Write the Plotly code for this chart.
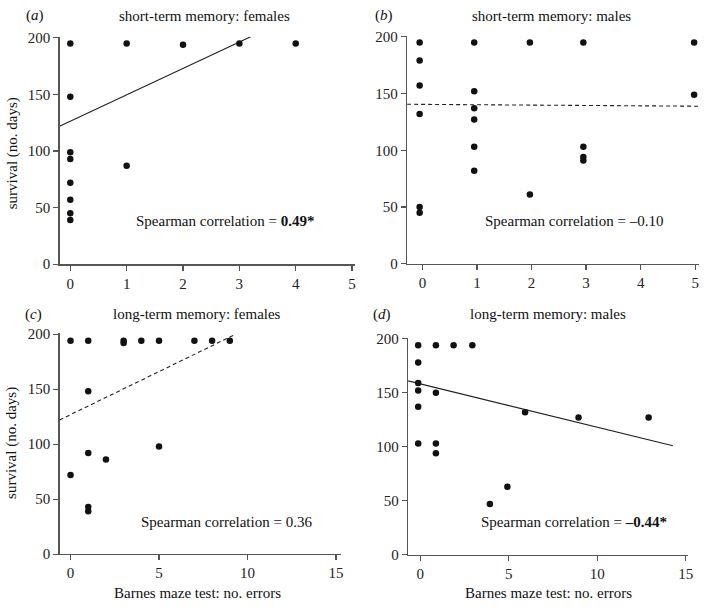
import plotly.graph_objects as go

W, H = 706, 609

# ---------------- data ----------------
# (a) short-term memory: females
a_x = [0, 0, 0, 0, 0, 0, 0, 0, 1, 1, 2, 3, 4]
a_y = [195, 148, 99, 93, 72, 57, 45, 39, 195, 87, 194, 195, 195]
a_fit_x = [-0.19, 3.2]
a_fit_y = [122, 201]

# (b) short-term memory: males
b_x = [-0.05, -0.05, -0.05, -0.05, -0.05, -0.05,
       0.95, 0.95, 0.95, 0.95, 0.95, 0.95,
       1.97, 1.97,
       2.95, 2.95, 2.95, 2.95,
       4.98, 4.98]
b_y = [195, 179, 157, 132, 50, 45,
       195, 152, 137, 127, 103, 82,
       195, 61,
       195, 103, 94, 91,
       195, 149]
b_fit_x = [-0.28, 5.07]
b_fit_y = [140.5, 138.8]

# (c) long-term memory: females
c_x = [0, 1, 3, 3, 4, 5, 7, 8, 9, 1, 5, 1, 2, 0, 1, 1]
c_y = [194, 194, 194, 192, 194, 194, 194, 194, 194, 148, 98, 92, 86, 72, 43, 39]
c_fit_x = [-0.62, 9.34]
c_fit_y = [122, 200]

# (d) long-term memory: males
d_x = [-0.12, -0.12, -0.12, -0.12, -0.12, -0.12,
       0.88, 0.88, 0.88, 0.88,
       1.88, 2.94, 3.93, 4.92, 5.92, 8.94, 12.9]
d_y = [194, 178, 159, 152, 137, 103,
       194, 150, 103, 94,
       194, 194, 47, 63, 132, 127, 127]
d_fit_x = [-0.69, 14.27]
d_fit_y = [161, 101]

panel_letters = ["a", "b", "c", "d"]
panel_titles = ["short-term memory: females", "short-term memory: males",
                "long-term memory: females", "long-term memory: males"]
spearman_text = ["Spearman correlation = <b>0.49*</b>",
                 "Spearman correlation = \u20130.10",
                 "Spearman correlation = 0.36",
                 "Spearman correlation = <b>\u20130.44*</b>"]
y_ticks = [0, 50, 100, 150, 200]
x_ticks_short = [0, 1, 2, 3, 4, 5]
x_ticks_long = [0, 5, 10, 15]
y_title = "survival (no. days)"
x_title = "Barnes maze test: no. errors"

# ---------------- layout helpers ----------------
FONT = "Liberation Serif, Times New Roman, serif"
AX = "#555555"
TXT = "#111111"


def px_x(p):
    return p / W


def px_y(p):
    return 1 - p / H


panels = [
    dict(x=a_x, y=a_y, fx=a_fit_x, fy=a_fit_y, dash="solid",
         xdom=(60, 358), ydom=(30.5, 263.7), xr=[-0.19, 5.06], xt=x_ticks_short),
    dict(x=b_x, y=b_y, fx=b_fit_x, fy=b_fit_y, dash="4px,3px",
         xdom=(410, 704), ydom=(29.3, 263.3), xr=[-0.28, 5.07], xt=x_ticks_short),
    dict(x=c_x, y=c_y, fx=c_fit_x, fy=c_fit_y, dash="4px,3px",
         xdom=(60, 343), ydom=(334.3, 561), xr=[-0.62, 15.26], xt=x_ticks_long),
    dict(x=d_x, y=d_y, fx=d_fit_x, fy=d_fit_y, dash="solid",
         xdom=(411, 693), ydom=(339, 561.7), xr=[-0.69, 15.13], xt=x_ticks_long),
]

fig = go.Figure()
layout = dict(
    width=W, height=H,
    margin=dict(l=0, r=0, t=0, b=0),
    paper_bgcolor="white", plot_bgcolor="white",
    showlegend=False,
    font=dict(family=FONT, size=15, color=TXT),
)
annotations = []

for i, p in enumerate(panels):
    n = "" if i == 0 else str(i + 1)
    xa, ya = "x" + n, "y" + n
    fig.add_trace(go.Scatter(x=p["fx"], y=p["fy"], mode="lines",
                             line=dict(color="#222", width=1.1, dash=p["dash"]),
                             xaxis=xa, yaxis=ya, hoverinfo="skip"))
    fig.add_trace(go.Scatter(x=p["x"], y=p["y"], mode="markers",
                             marker=dict(color=TXT, size=6.5, symbol="circle"),
                             cliponaxis=False, xaxis=xa, yaxis=ya))
    common = dict(showline=True, linecolor=AX, linewidth=1.3, ticks="outside",
                  ticklen=5, tickcolor=AX, tickwidth=1.2, showgrid=False,
                  zeroline=False, tickfont=dict(family=FONT, size=15, color="#222"))
    layout["xaxis" + n] = dict(common, domain=[px_x(p["xdom"][0]), px_x(p["xdom"][1])],
                               range=p["xr"], tickvals=p["xt"], anchor=ya)
    layout["yaxis" + n] = dict(common, domain=[px_y(p["ydom"][1]), px_y(p["ydom"][0])],
                               range=[0, 201], tickvals=y_ticks, anchor=xa)


def text_at(txt, x, y, angle=0):
    return dict(text=txt, x=px_x(x), y=px_y(y), xref="paper", yref="paper",
                xanchor="center", yanchor="middle", showarrow=False,
                textangle=angle, font=dict(family=FONT, size=15, color=TXT))


lab_pos = [(35, 9), (387, 9), (34, 315), (385, 315)]
tit_pos = [(206, 9), (555, 9), (198, 315), (552, 315)]
sp_pos = [(227, 219), (578, 219), (228, 528), (578, 528)]
for i in range(4):
    annotations.append(text_at("(<i>" + panel_letters[i] + "</i>)", *lab_pos[i]))
    annotations.append(text_at(panel_titles[i], *tit_pos[i]))
    annotations.append(text_at(spearman_text[i], *sp_pos[i]))

for yy in (150, 447):
    annotations.append(text_at(y_title, 12, yy, angle=-90))
for xx in (199, 552):
    annotations.append(text_at(x_title, xx, 601))

layout["annotations"] = annotations
fig.update_layout(**layout)
fig.write_html("out.html",
               config={"displayModeBar": False, "staticPlot": True},
               post_script="document.body.style.margin='0';"
                           "document.documentElement.style.overflow='hidden';")
